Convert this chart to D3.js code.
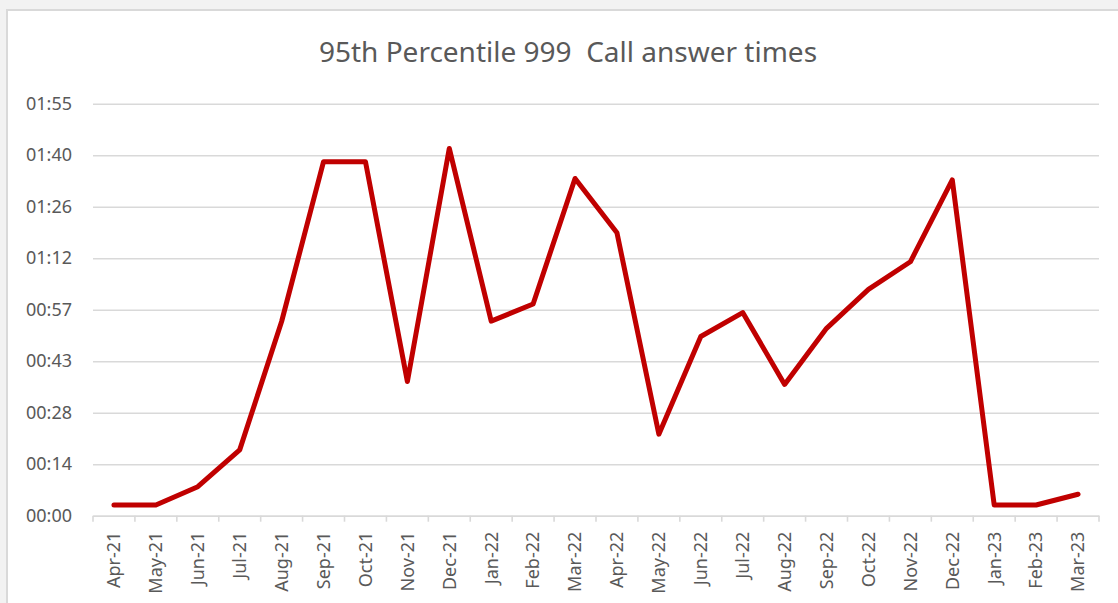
<!DOCTYPE html>
<html>
<head>
<meta charset="utf-8">
<script src="https://cdn.jsdelivr.net/npm/d3@7"></script>
<style>
  body { margin: 0; background: #f2f2f2; }
  svg { display: block; font-family: "Noto Sans", "Open Sans", sans-serif; }
</style>
</head>
<body>
<div id="vis"><svg></svg></div>
<script>
// months on the x axis
var months = ["Apr-21","May-21","Jun-21","Jul-21","Aug-21","Sep-21","Oct-21","Nov-21","Dec-21",
              "Jan-22","Feb-22","Mar-22","Apr-22","May-22","Jun-22","Jul-22","Aug-22","Sep-22",
              "Oct-22","Nov-22","Dec-22","Jan-23","Feb-23","Mar-23"];

// 95th percentile answer time, in seconds
var answerSecs = [3, 3, 8.1, 18.4, 54.3, 99, 99, 37.5, 102.7,
                  54.4, 59.2, 94.3, 79.1, 22.8, 50.1, 56.8, 36.7, 52.4,
                  63.3, 71, 93.9, 3, 3, 6];

// y ticks (seconds) and the way excel printed them
var yTicks = [0, 14.4, 28.8, 43.2, 57.6, 72, 86.4, 100.8, 115.2];
var yTickLabels = ["00:00","00:14","00:28","00:43","00:57","01:12","01:26","01:40","01:55"];

var titleText = "95th Percentile 999  Call answer times";

function drawChart(){
    var W = 1118, H = 603;
    var left = 93, right = 1099, top = 103.7, bottom = 515.7;

    var svg = d3.select("#vis").select("svg")
        .attr("width", W)
        .attr("height", H);

    // chart area with its thin border
    svg.append("rect")
        .attr("x", 7).attr("y", 10)
        .attr("width", W + 20).attr("height", H + 20)
        .attr("fill", "white")
        .attr("stroke", "#d9d9d9")
        .attr("stroke-width", 2);

    svg.append("text")
        .attr("x", 568).attr("y", 62)
        .attr("text-anchor", "middle")
        .attr("fill", "#595959")
        .attr("font-size", "28px")
        .style("white-space", "pre")
        .text(titleText);

    var x = d3.scaleBand()
        .domain(months)
        .range([left, right]);

    var y = d3.scaleLinear()
        .domain([0, 115.2])
        .range([bottom, top]);

    // Y axis = gridlines + labels
    var yAxis = svg.append("g")
        .attr("transform", "translate(" + left + ",0)")
        .call(d3.axisLeft(y)
            .tickValues(yTicks)
            .tickSize(-(right - left))
            .tickPadding(21)
            .tickFormat(function(d, i){ return yTickLabels[i]; }));
    yAxis.select(".domain").remove();
    yAxis.selectAll(".tick line")
        .attr("stroke", "#d9d9d9")
        .attr("stroke-width", 1.6);
    yAxis.selectAll(".tick text")
        .attr("fill", "#595959")
        .attr("font-size", "18px");

    // X axis: labels at band centres, tick marks on band edges
    var xAxis = svg.append("g")
        .attr("transform", "translate(0," + bottom + ")")
        .call(d3.axisBottom(x).tickSize(0));
    xAxis.select(".domain")
        .attr("stroke", "#d9d9d9")
        .attr("stroke-width", 1.6);
    xAxis.selectAll(".tick text")
        .attr("transform", "rotate(-90)")
        .attr("text-anchor", "end")
        .attr("x", -16)
        .attr("y", 0)
        .attr("dy", "0.35em")
        .attr("fill", "#595959")
        .attr("font-size", "18px");

    // let the svg font apply instead of d3's default sans-serif
    yAxis.attr("font-family", null);
    xAxis.attr("font-family", null);

    var edges = months.map(function(m){ return x(m); }).concat([x(months[months.length - 1]) + x.bandwidth()]);
    xAxis.selectAll("line.edge")
        .data(edges)
        .enter().append("line")
        .attr("class", "edge")
        .attr("x1", function(d){ return d; })
        .attr("x2", function(d){ return d; })
        .attr("y1", 0).attr("y2", 6)
        .attr("stroke", "#d9d9d9")
        .attr("stroke-width", 1.6);

    // the line itself
    svg.append("path")
        .datum(answerSecs)
        .attr("fill", "none")
        .attr("stroke", "#c00000")
        .attr("stroke-width", 5)
        .attr("stroke-linejoin", "round")
        .attr("stroke-linecap", "round")
        .attr("d", d3.line()
            .x(function(d, i){ return x(months[i]) + x.bandwidth() / 2; })
            .y(function(d){ return y(d); }));
}

drawChart();
</script>
</body>
</html>
